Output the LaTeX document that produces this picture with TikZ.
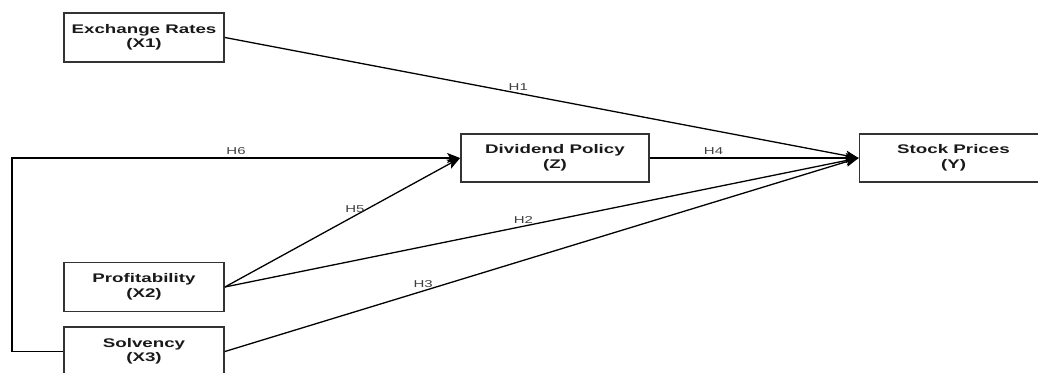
\documentclass[tikz,border=0pt]{standalone}
\usepackage{fontspec}
\setmainfont{Liberation Sans}[FakeStretch=1.5]
\usepackage{tikz}
\usetikzlibrary{arrows.meta,positioning}

\begin{document}
\begin{tikzpicture}[x=1pt,y=-1pt,thick]
  \tikzstyle{var} = [draw=black!80,line width=1.8pt,fill=white,minimum width=160pt,minimum height=49pt,inner sep=0pt,align=center,text=black!90,font=\fontsize{12.5}{14.5}\selectfont\bfseries]
  \tikzstyle{wide} = [var,minimum width=188pt,minimum height=48pt]
  \tikzstyle{link} = [line width=1.3pt,-{Stealth[length=13pt,width=10pt,inset=3pt]}]
  \tikzstyle{hyp} = [font=\fontsize{10}{11}\selectfont,text=black!75,inner sep=2.5pt]
  %
  \useasboundingbox (0,0) rectangle (1038,372);
  % Independent variables.
  \node[var] (x1) at (144,37.5) {Exchange Rates\\(X1)};
  \node[var] (x2) at (144,287) {Profitability\\(X2)};
  \node[var] (x3) at (144,351.5) {Solvency\\(X3)};
  % Dividend and stock prices.
  \node[wide] (z) at (555,158) {Dividend Policy\\(Z)};
  \node[wide] (y) at (953.5,158) {Stock Prices\\(Y)};
  \coordinate (bend) at (12,158);
  % Draw lines.
  \draw[link] (x1.east) -- node[hyp,above,pos=0.463] {H1} (y.west);
  \draw[link] (x2.east) -- node[hyp,above,pos=0.471] {H2} (y.west);
  \draw[link] (x3.east) -- node[hyp,above,pos=0.313] {H3} (y.west);
  \draw[link] (z.east) -- node[hyp,above,pos=0.305] {H4} (y.west);
  \draw[link] (x2.east) -- node[hyp,above,pos=0.553] {H5} (z.west);
  \draw[link] (x3.west) -- (x3.west -| bend) |- node[hyp,above,pos=0.75] {H6} (z.west);
\end{tikzpicture}
\end{document}
